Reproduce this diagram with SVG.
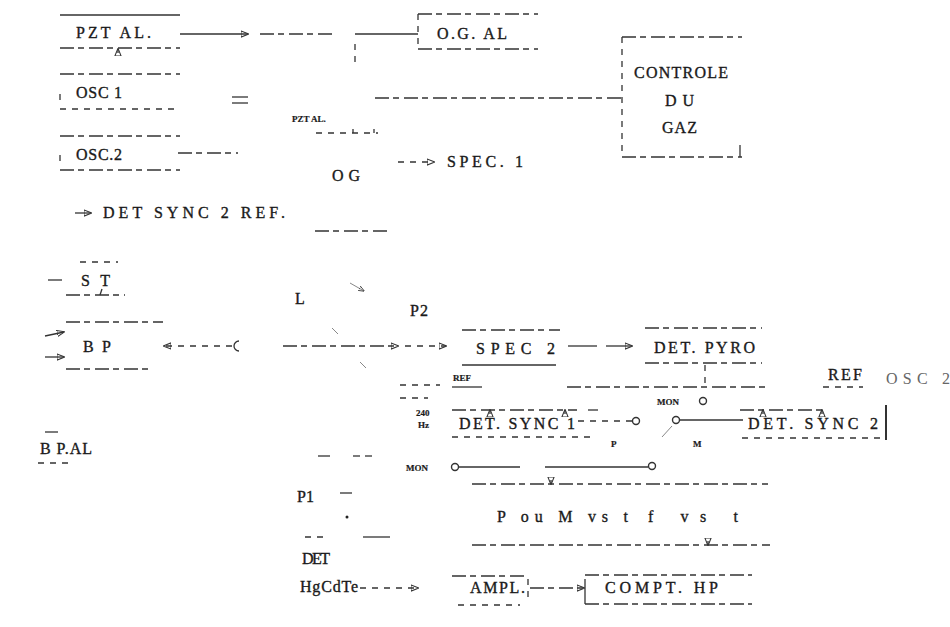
<svg xmlns="http://www.w3.org/2000/svg" width="950" height="627" viewBox="0 0 950 627">
<defs>
<style>
text{font-family:"Liberation Serif","DejaVu Serif",serif;font-size:16px;fill:#1a1a1a;stroke:#1a1a1a;stroke-width:0.35}
.s{font-family:"Liberation Serif","DejaVu Serif",serif;font-size:9px;font-weight:bold;stroke-width:0.2}
line,path{stroke:#333;stroke-width:1.3;fill:none}
.d{stroke-dasharray:14 4 6 5}
.dd{stroke-dasharray:6 6}
.f{stroke:#888;stroke-width:1}
circle{fill:#fff;stroke:#333;stroke-width:1.4}
</style>
<marker id="a" viewBox="0 0 10 10" refX="9" refY="5" markerWidth="6" markerHeight="6" orient="auto"><path d="M0,1 L10,5 L0,9 z" fill="#222" stroke="none"/></marker>
</defs>
<rect width="950" height="627" fill="#fff"/>

<g id="pzt-al">
<line x1="60" y1="15" x2="180" y2="15"/>
<line x1="60" y1="48" x2="180" y2="48" class="d"/>
<line x1="118" y1="53" x2="118" y2="49" marker-end="url(#a)"/>
<text x="76" y="38" textLength="75" lengthAdjust="spacing">PZT AL.</text>
</g>
<g id="osc1">
<line x1="60" y1="74" x2="180" y2="74" class="d"/>
<line x1="60" y1="109" x2="180" y2="109" class="dd"/>
<line x1="60" y1="94" x2="60" y2="100"/>
<text x="76" y="98" textLength="46" lengthAdjust="spacing">OSC 1</text>
</g>
<g id="osc2">
<line x1="60" y1="136" x2="180" y2="136" class="d"/>
<line x1="60" y1="170" x2="180" y2="170" class="d"/>
<line x1="60" y1="155" x2="60" y2="161"/>
<text x="76" y="160" textLength="46" lengthAdjust="spacing">OSC.2</text>
</g>
<g id="og-al">
<line x1="418" y1="14" x2="538" y2="14" class="d"/>
<line x1="418" y1="49" x2="538" y2="49" class="d"/>
<line x1="418" y1="14" x2="418" y2="49" class="dd"/>
<text x="437" y="39" textLength="70" lengthAdjust="spacing">O.G. AL</text>
</g>
<g id="controle">
<line x1="622" y1="37" x2="742" y2="37" class="d"/>
<line x1="622" y1="157" x2="742" y2="157" class="d"/>
<line x1="622" y1="37" x2="622" y2="157" class="dd"/>
<line x1="740" y1="145" x2="740" y2="157"/>
<text x="634" y="78" textLength="94" lengthAdjust="spacing">CONTROLE</text>
<text x="665" y="106" textLength="29" lengthAdjust="spacing">DU</text>
<text x="662" y="133" textLength="35" lengthAdjust="spacing">GAZ</text>
</g>
<g id="og">
<text x="292" y="122" class="s">PZT AL.</text>
<text x="332" y="181" textLength="28" lengthAdjust="spacing">O G</text>
<line x1="315" y1="231" x2="387" y2="231" class="d"/>
</g>
<g id="spec1">
<text x="447" y="167" textLength="76" lengthAdjust="spacing">SPEC. 1</text>
</g>
<g id="det-sync2-ref">
<text x="103" y="218" textLength="182" lengthAdjust="spacing">DET  SYNC  2 REF.</text>
</g>
<g id="st">
<line x1="80" y1="262" x2="118" y2="262" class="dd"/>
<line x1="48" y1="280" x2="62" y2="280"/>
<line x1="66" y1="295" x2="125" y2="295" class="d"/>
<text x="81" y="286" textLength="29" lengthAdjust="spacing">ST</text>
</g>
<g id="bp">
<line x1="66" y1="322" x2="163" y2="322" class="d"/>
<line x1="66" y1="369" x2="148" y2="369" class="d"/>
<text x="83" y="352" textLength="28" lengthAdjust="spacing">B P</text>
</g>
<g id="bpal">
<line x1="45" y1="432" x2="58" y2="432"/>
<line x1="38" y1="463" x2="68" y2="463" class="dd"/>
<text x="40" y="454" textLength="52" lengthAdjust="spacing">B P.AL</text>
</g>
<g id="spec2">
<line x1="462" y1="330" x2="560" y2="330" class="d"/>
<line x1="462" y1="365" x2="556" y2="365"/>
<text x="476" y="354" textLength="79" lengthAdjust="spacing">SPEC 2</text>
</g>
<g id="det-pyro">
<line x1="645" y1="328" x2="762" y2="328" class="d"/>
<line x1="645" y1="363" x2="762" y2="363" class="d"/>
<text x="654" y="353" textLength="101" lengthAdjust="spacing">DET. PYRO</text>
</g>
<g id="det-sync1">
<line x1="452" y1="410" x2="577" y2="410" class="d"/>
<line x1="588" y1="410" x2="598" y2="410"/>
<line x1="452" y1="437" x2="590" y2="437" class="dd"/>
<line x1="490" y1="414" x2="490" y2="410" marker-end="url(#a)"/>
<line x1="565" y1="414" x2="565" y2="410" marker-end="url(#a)"/>
<text x="459" y="429" textLength="116" lengthAdjust="spacing">DET. SYNC  1</text>
</g>
<g id="det-sync2">
<line x1="740" y1="410" x2="822" y2="410" class="d"/>
<line x1="742" y1="438" x2="880" y2="438" class="dd"/>
<line x1="886" y1="405" x2="886" y2="440" style="stroke-width:2"/>
<line x1="763" y1="414" x2="763" y2="410" marker-end="url(#a)"/>
<line x1="822" y1="414" x2="822" y2="410" marker-end="url(#a)"/>
<text x="748" y="429" textLength="130" lengthAdjust="spacing">DET. SYNC  2</text>
</g>
<g id="plot">
<line x1="472" y1="484" x2="768" y2="484" class="d"/>
<line x1="472" y1="545" x2="770" y2="545" class="d"/>
<line x1="551" y1="480" x2="551" y2="484" marker-end="url(#a)"/>
<line x1="708" y1="541" x2="708" y2="545" marker-end="url(#a)"/>
<text x="497" y="522" textLength="131" lengthAdjust="spacing">P ou M vs t</text>
<text x="648" y="522" textLength="90" lengthAdjust="spacing">f  vs  t</text>
</g>
<g id="det-hgcdte">
<text x="302" y="564" textLength="28" lengthAdjust="spacing">DET</text>
<text x="300" y="592" textLength="58" lengthAdjust="spacing">HgCdTe</text>
</g>
<g id="ampl">
<line x1="452" y1="576" x2="528" y2="576" class="d"/>
<line x1="458" y1="605" x2="520" y2="605" class="dd"/>
<line x1="528" y1="579" x2="528" y2="597" class="dd"/>
<text x="470" y="593" textLength="55" lengthAdjust="spacing">AMPL.</text>
</g>
<g id="compt-hp">
<line x1="585" y1="575" x2="752" y2="575" class="d"/>
<line x1="585" y1="604" x2="752" y2="604" class="d"/>
<line x1="585" y1="579" x2="585" y2="604"/>
<text x="605" y="593" textLength="113" lengthAdjust="spacing">COMPT. HP</text>
</g>
<g id="labels">
<text x="295" y="304">L</text>
<text x="410" y="316" textLength="18" lengthAdjust="spacing">P2</text>
<text x="297" y="502" textLength="17" lengthAdjust="spacing">P1</text>
<text x="453" y="381" class="s">REF</text>
<text x="416" y="416" class="s">240</text>
<text x="418" y="428" class="s">Hz</text>
<text x="611" y="447" class="s">P</text>
<text x="693" y="447" class="s">M</text>
<text x="657" y="405" class="s">MON</text>
<text x="406" y="471" class="s">MON</text>
<text x="828" y="380" textLength="34" lengthAdjust="spacing">REF</text>
<text x="886" y="384" textLength="64" lengthAdjust="spacing" style="fill:#666;stroke:none">OSC  2</text>
</g>

<g id="connectors">
<line x1="180" y1="34" x2="248" y2="34" marker-end="url(#a)"/>
<line x1="260" y1="34" x2="335" y2="34" class="d"/>
<line x1="355" y1="34" x2="418" y2="34"/>
<line x1="355" y1="44" x2="355" y2="66" class="dd"/>
<line x1="232" y1="97" x2="248" y2="97"/>
<line x1="232" y1="103" x2="248" y2="103"/>
<line x1="375" y1="98" x2="622" y2="98" class="d"/>
<line x1="178" y1="153" x2="238" y2="153" class="d"/>
<line x1="316" y1="133" x2="378" y2="133" class="dd"/>
<line x1="353" y1="129" x2="353" y2="133"/>
<line x1="374" y1="129" x2="374" y2="133"/>
<line x1="398" y1="162" x2="434" y2="162" class="dd" marker-end="url(#a)"/>
<line x1="75" y1="213" x2="91" y2="213" marker-end="url(#a)"/>
<line x1="102" y1="289" x2="100" y2="295"/>
<line x1="45" y1="336" x2="64" y2="332" marker-end="url(#a)"/>
<line x1="45" y1="357" x2="64" y2="357" marker-end="url(#a)"/>
<line x1="232" y1="346" x2="164" y2="346" class="dd" marker-end="url(#a)"/>
<path d="M239,341 A5,5 0 1 0 239,351"/>
<line x1="283" y1="346" x2="398" y2="346" class="d" marker-end="url(#a)"/>
<line x1="405" y1="346" x2="446" y2="346" class="dd" marker-end="url(#a)"/>
<line x1="350" y1="283" x2="364" y2="291" class="f" marker-end="url(#a)"/>
<line x1="332" y1="328" x2="338" y2="334" class="f"/>
<line x1="360" y1="362" x2="366" y2="368" class="f"/>
<line x1="568" y1="346" x2="597" y2="346"/>
<line x1="606" y1="346" x2="632" y2="346" marker-end="url(#a)"/>
<line x1="705" y1="365" x2="705" y2="387" class="dd"/>
<line x1="567" y1="387" x2="767" y2="387" class="d"/>
<line x1="400" y1="385" x2="440" y2="385" class="dd"/>
<line x1="452" y1="387" x2="482" y2="387"/>
<line x1="400" y1="398" x2="428" y2="398" class="dd"/>
<line x1="823" y1="387" x2="863" y2="387" class="dd"/>
<line x1="578" y1="421" x2="632" y2="421" class="dd"/>
<circle cx="636" cy="421" r="3.5"/>
<circle cx="676" cy="420" r="3.5"/>
<line x1="680" y1="420" x2="743" y2="420"/>
<line x1="662" y1="437" x2="672" y2="426" class="f"/>
<circle cx="703" cy="401" r="3.5"/>
<circle cx="455" cy="467" r="3.5"/>
<line x1="459" y1="467" x2="520" y2="467"/>
<line x1="545" y1="467" x2="648" y2="467"/>
<circle cx="652" cy="466" r="3.5"/>
<line x1="318" y1="456" x2="330" y2="456"/>
<line x1="353" y1="456" x2="360" y2="456"/>
<line x1="365" y1="456" x2="372" y2="456"/>
<line x1="340" y1="493" x2="352" y2="493"/>
<circle cx="347" cy="517" r="1.5" style="fill:#222;stroke:none"/>
<line x1="305" y1="537" x2="325" y2="537" class="dd"/>
<line x1="363" y1="537" x2="390" y2="537"/>
<line x1="360" y1="588" x2="418" y2="588" class="dd" marker-end="url(#a)"/>
<line x1="530" y1="588" x2="584" y2="588" class="d" marker-end="url(#a)"/>
</g>
</svg>
